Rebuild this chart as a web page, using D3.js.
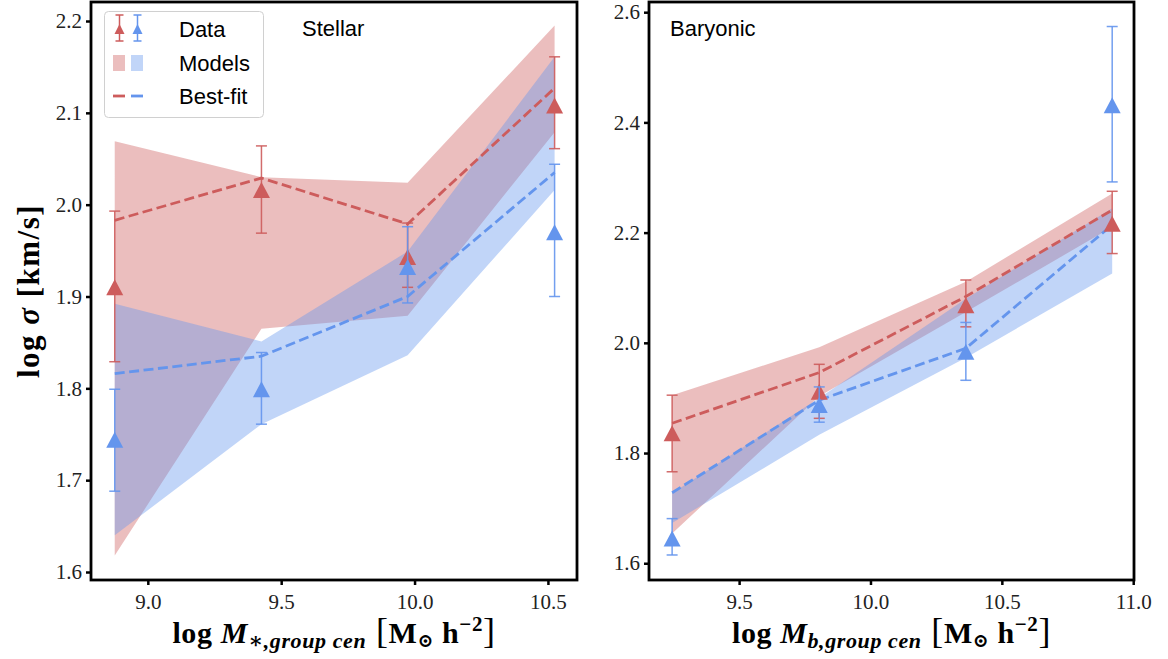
<!DOCTYPE html>
<html>
<head>
<meta charset="utf-8">
<script src="https://cdn.jsdelivr.net/npm/d3@7"></script>
<style>
  html, body { margin: 0; padding: 0; background: #fff; }
  svg { display: block; }
</style>
</head>
<body>
<svg id="chart" width="1168" height="659"></svg>
<script>
// ---- Stellar-mass panel ----
const stellarMass      = [8.876, 9.426, 9.974, 10.525];
const stellarRedData   = [1.910, 2.016, 1.943, 2.108];
const stellarRedLo     = [1.829, 1.969, 1.910, 2.061];
const stellarRedHi     = [1.993, 2.064, 1.980, 2.161];
const stellarBlueData  = [1.744, 1.799, 1.932, 1.970];
const stellarBlueLo    = [1.688, 1.761, 1.893, 1.900];
const stellarBlueHi    = [1.799, 1.839, 1.976, 2.044];
const stellarRedFit    = [1.983, 2.029, 1.979, 2.127];
const stellarBlueFit   = [1.816, 1.835, 1.900, 2.035];
const stellarRedBandLo = [1.618, 1.865, 1.879, 2.079];
const stellarRedBandHi = [2.069, 2.030, 2.024, 2.195];
const stellarBlueBandLo= [1.640, 1.761, 1.836, 2.016];
const stellarBlueBandHi= [1.892, 1.851, 1.949, 2.161];
const stellarXTicks    = [9.0, 9.5, 10.0, 10.5];
const stellarYTicks    = [1.6, 1.7, 1.8, 1.9, 2.0, 2.1, 2.2];

// ---- Baryonic-mass panel ----
const baryonMass       = [9.245, 9.805, 10.363, 10.920];
const baryonRedData    = [1.836, 1.911, 2.068, 2.216];
const baryonRedLo      = [1.766, 1.863, 2.029, 2.162];
const baryonRedHi      = [1.905, 1.961, 2.114, 2.275];
const baryonBlueData   = [1.645, 1.887, 1.984, 2.431];
const baryonBlueLo     = [1.615, 1.856, 1.932, 2.292];
const baryonBlueHi     = [1.681, 1.920, 2.037, 2.574];
const baryonRedFit     = [1.854, 1.946, 2.084, 2.241];
const baryonBlueFit    = [1.728, 1.896, 1.990, 2.214];
const baryonRedBandLo  = [1.654, 1.903, 2.056, 2.210];
const baryonRedBandHi  = [1.905, 1.992, 2.111, 2.271];
const baryonBlueBandLo = [1.673, 1.833, 1.973, 2.126];
const baryonBlueBandHi = [1.727, 1.900, 2.080, 2.244];
const baryonXTicks     = [9.5, 10.0, 10.5, 11.0];
const baryonYTicks     = [1.6, 1.8, 2.0, 2.2, 2.4, 2.6];

const RED = "#cd5c5c";   // indianred
const BLUE = "#6495ed";  // cornflowerblue
const SERIF = "'Liberation Serif', 'DejaVu Serif', serif";
const SANS = "'Liberation Sans', Arial, sans-serif";

const svg = d3.select("#chart");

function triPath(cx, cy, w, h) {
  return `M${cx},${cy - h / 2}L${cx + w / 2},${cy + h / 2}L${cx - w / 2},${cy + h / 2}Z`;
}

function drawPanel(cfg) {
  const x = d3.scaleLinear().domain(cfg.xDomain).range([cfg.left, cfg.right]);
  const y = d3.scaleLinear().domain(cfg.yDomain).range([cfg.bottom, cfg.top]);
  const g = svg.append("g");

  const idx = d3.range(cfg.mass.length);

  // model bands (red first, blue on top)
  const band = (lo, hi) => d3.area()
    .x(i => x(cfg.mass[i])).y0(i => y(lo[i])).y1(i => y(hi[i]));
  g.append("path").attr("d", band(cfg.redBandLo, cfg.redBandHi)(idx))
    .attr("fill", RED).attr("fill-opacity", 0.4);
  g.append("path").attr("d", band(cfg.blueBandLo, cfg.blueBandHi)(idx))
    .attr("fill", BLUE).attr("fill-opacity", 0.4);

  // best-fit dashed lines
  const line = vals => d3.line().x(i => x(cfg.mass[i])).y(i => y(vals[i]));
  [[cfg.redFit, RED], [cfg.blueFit, BLUE]].forEach(([vals, col]) => {
    g.append("path").attr("d", line(vals)(idx))
      .attr("fill", "none").attr("stroke", col).attr("stroke-width", 2.8)
      .attr("stroke-dasharray", "10,4.5");
  });

  // data with error bars
  const series = [
    [cfg.redData, cfg.redLo, cfg.redHi, RED],
    [cfg.blueData, cfg.blueLo, cfg.blueHi, BLUE]
  ];
  series.forEach(([vals, lo, hi, col]) => {
    const sg = g.append("g");
    idx.forEach(i => {
      const cx = x(cfg.mass[i]);
      sg.append("line").attr("x1", cx).attr("x2", cx)
        .attr("y1", y(lo[i])).attr("y2", y(hi[i]))
        .attr("stroke", col).attr("stroke-width", 1.5).attr("stroke-opacity", 0.9);
      [lo[i], hi[i]].forEach(v => {
        sg.append("line").attr("x1", cx - 5.5).attr("x2", cx + 5.5)
          .attr("y1", y(v)).attr("y2", y(v))
          .attr("stroke", col).attr("stroke-width", 1.5).attr("stroke-opacity", 0.9);
      });
      sg.append("path").attr("d", triPath(cx, y(vals[i]), 17, 16)).attr("fill", col);
    });
  });

  // axes
  const xAxis = d3.axisBottom(x).tickValues(cfg.xTicks)
    .tickFormat(d3.format(".1f")).tickSize(5).tickPadding(9);
  const yAxis = d3.axisLeft(y).tickValues(cfg.yTicks)
    .tickFormat(d3.format(".1f")).tickSize(5).tickPadding(4);
  [[xAxis, `translate(0,${cfg.bottom})`], [yAxis, `translate(${cfg.left},0)`]].forEach(([ax, tr]) => {
    const a = g.append("g").attr("transform", tr).call(ax);
    a.select(".domain").remove();
    a.selectAll(".tick line").attr("stroke", "#000").attr("stroke-width", 2.5);
    a.selectAll(".tick text").attr("fill", "#222")
      .style("font-family", SERIF).style("font-size", "21px");
  });

  // frame
  g.append("rect").attr("x", cfg.left).attr("y", cfg.top)
    .attr("width", cfg.right - cfg.left).attr("height", cfg.bottom - cfg.top)
    .attr("fill", "none").attr("stroke", "#000").attr("stroke-width", 2.8);

  // panel title
  g.append("text").attr("x", cfg.titleX).attr("y", 36)
    .style("font-family", SANS).style("font-size", "22px").attr("fill", "#000")
    .text(cfg.title);

  // x-axis label
  const lab = g.append("text").attr("x", (cfg.left + cfg.right) / 2).attr("y", 643)
    .attr("text-anchor", "middle").attr("fill", "#000")
    .style("font-family", SERIF).style("font-weight", "bold").style("font-size", "30px")
    .style("letter-spacing", "0.6px");
  lab.append("tspan").text("log ");
  lab.append("tspan").style("font-style", "italic").text("M");
  lab.append("tspan").style("font-style", "italic").style("font-size", "22px")
    .attr("dy", 5).text(cfg.sub);
  lab.append("tspan").attr("dy", -5).style("font-size", "36px").style("font-weight", "normal").text(" [");
  lab.append("tspan").text("M");
  lab.append("tspan").style("font-size", "19px").attr("dy", 4).text("⊙");
  lab.append("tspan").attr("dy", -4).text(" h");
  lab.append("tspan").style("font-size", "21px").attr("dy", -12).text("−2");
  lab.append("tspan").attr("dy", 12).style("font-size", "36px").style("font-weight", "normal").text("]");

  return { x, y };
}

drawPanel({
  left: 91, right: 577, top: 2, bottom: 580,
  xDomain: [8.787, 10.609], yDomain: [1.5913, 2.2207],
  mass: stellarMass,
  redData: stellarRedData, redLo: stellarRedLo, redHi: stellarRedHi,
  blueData: stellarBlueData, blueLo: stellarBlueLo, blueHi: stellarBlueHi,
  redFit: stellarRedFit, blueFit: stellarBlueFit,
  redBandLo: stellarRedBandLo, redBandHi: stellarRedBandHi,
  blueBandLo: stellarBlueBandLo, blueBandHi: stellarBlueBandHi,
  xTicks: stellarXTicks, yTicks: stellarYTicks,
  title: "Stellar", titleX: 302, sub: "∗,group cen"
});

drawPanel({
  left: 649, right: 1134, top: 2, bottom: 580,
  xDomain: [9.157, 11.003], yDomain: [1.5696, 2.6185],
  mass: baryonMass,
  redData: baryonRedData, redLo: baryonRedLo, redHi: baryonRedHi,
  blueData: baryonBlueData, blueLo: baryonBlueLo, blueHi: baryonBlueHi,
  redFit: baryonRedFit, blueFit: baryonBlueFit,
  redBandLo: baryonRedBandLo, redBandHi: baryonRedBandHi,
  blueBandLo: baryonBlueBandLo, blueBandHi: baryonBlueBandHi,
  xTicks: baryonXTicks, yTicks: baryonYTicks,
  title: "Baryonic", titleX: 670, sub: "b,group cen"
});

// y-axis label
const ylab = svg.append("text")
  .attr("transform", "translate(39,291) rotate(-90)")
  .attr("text-anchor", "middle").attr("fill", "#000")
  .style("font-family", SERIF).style("font-weight", "bold").style("font-size", "31px")
  .style("letter-spacing", "1.5px");
ylab.append("tspan").text("log ");
ylab.append("tspan").style("font-style", "italic").text("σ");
ylab.append("tspan").text(" [km/s]");

// legend
const leg = svg.append("g");
leg.append("rect").attr("x", 104.5).attr("y", 11.5).attr("width", 159).attr("height", 106)
  .attr("rx", 4).attr("fill", "#fff").attr("fill-opacity", 0.8)
  .attr("stroke", "#d0d0d0").attr("stroke-width", 1);
[[119.5, RED], [137.5, BLUE]].forEach(([cx, col]) => {
  leg.append("line").attr("x1", cx).attr("x2", cx).attr("y1", 15).attr("y2", 41)
    .attr("stroke", col).attr("stroke-width", 1.5);
  [15, 41].forEach(yy => leg.append("line").attr("x1", cx - 4).attr("x2", cx + 4)
    .attr("y1", yy).attr("y2", yy).attr("stroke", col).attr("stroke-width", 1.5));
  leg.append("path").attr("d", triPath(cx, 29, 10, 10)).attr("fill", col);
});
[[113, RED], [131, BLUE]].forEach(([x0, col]) => {
  leg.append("rect").attr("x", x0).attr("y", 55).attr("width", 12).attr("height", 16)
    .attr("fill", col).attr("fill-opacity", 0.4);
  leg.append("line").attr("x1", x0).attr("x2", x0 + 12).attr("y1", 96).attr("y2", 96)
    .attr("stroke", col).attr("stroke-width", 2.8);
});
[["Data", 29], ["Models", 63], ["Best-fit", 96.5]].forEach(([t, cy]) => {
  leg.append("text").attr("x", 179).attr("y", cy).attr("dy", "0.36em")
    .style("font-family", SANS).style("font-size", "22px").attr("fill", "#000").text(t);
});
</script>
</body>
</html>
